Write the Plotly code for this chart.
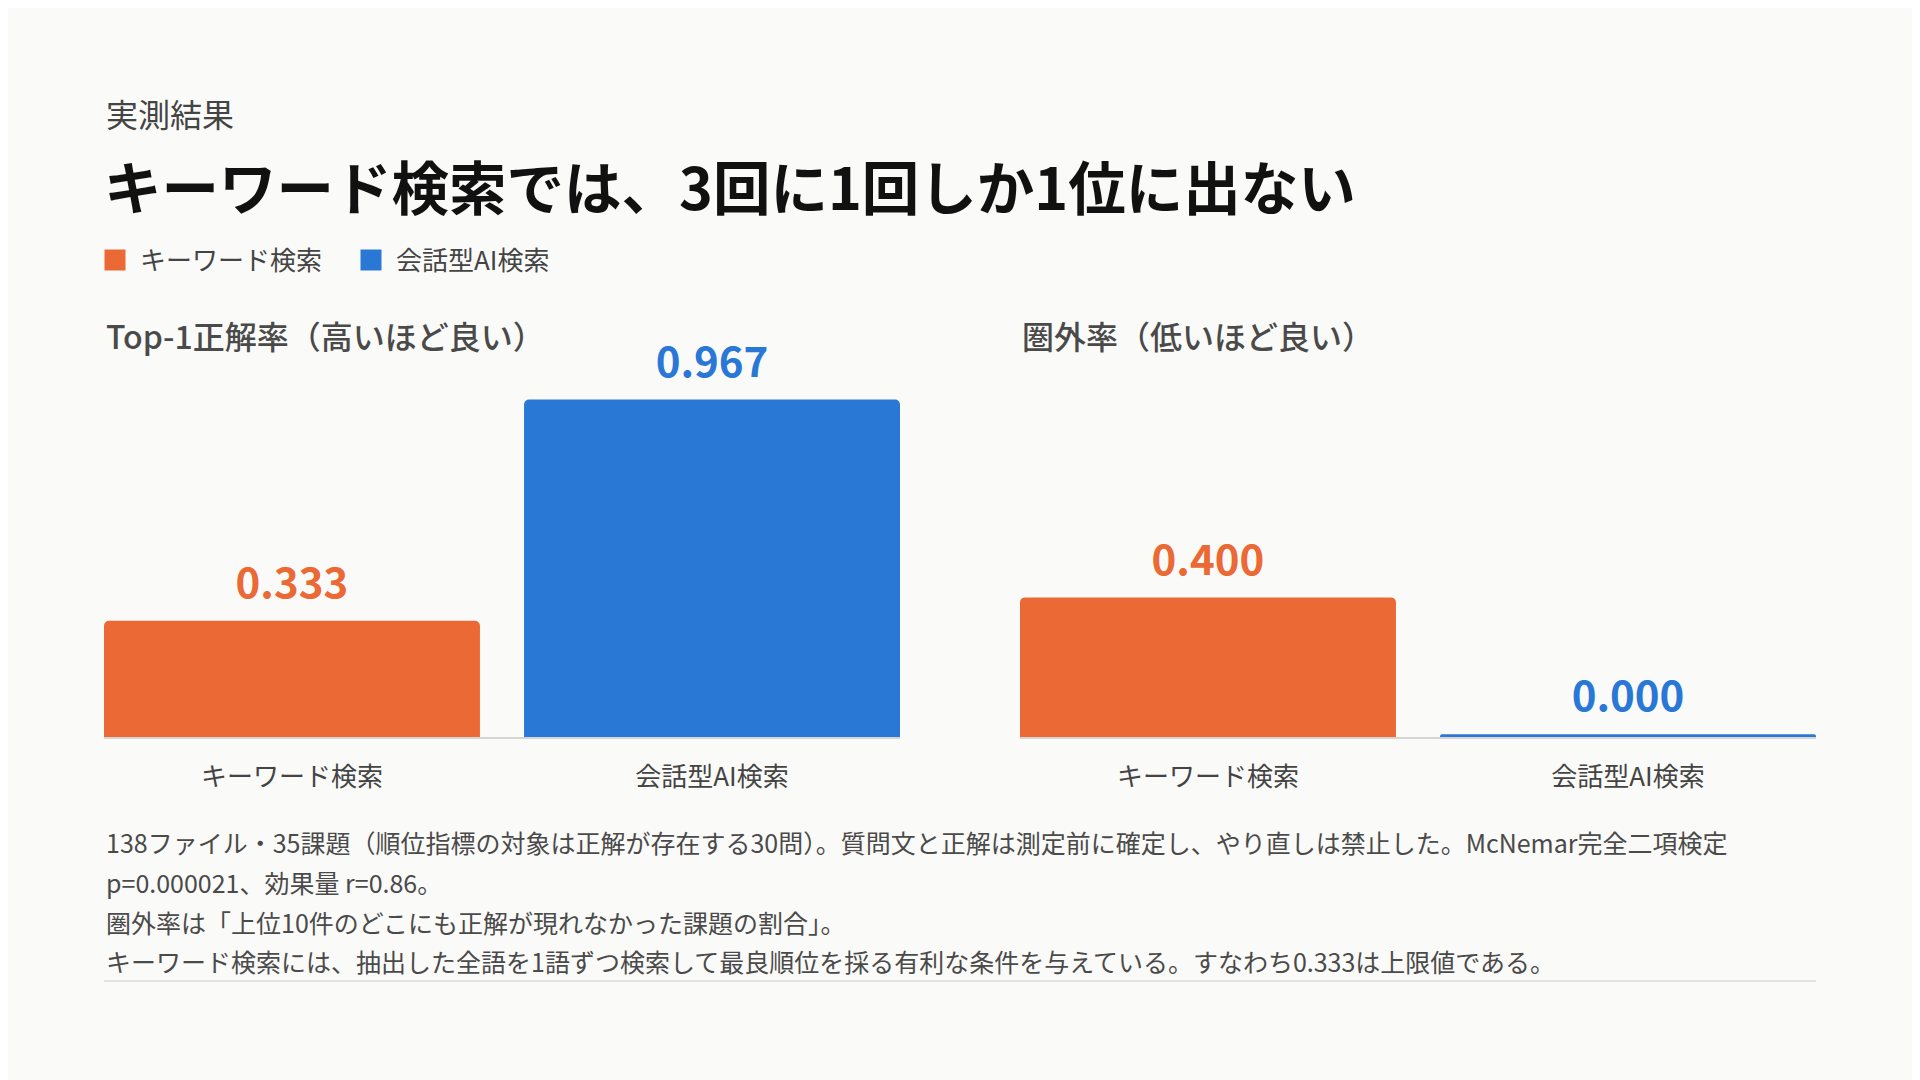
import plotly.graph_objects as go

# data
methods = ["キーワード検索", "会話型AI検索"]
top1_rate = [0.333, 0.967]
out_rate = [0.400, 0.000]
method_colors = ["#EA6935", "#2A78D6"]

kicker = "実測結果"
headline = "キーワード検索では、3回に1回しか1位に出ない"
panel_titles = ["Top-1正解率（高いほど良い）", "圏外率（低いほど良い）"]
notes = [
    "138ファイル・35課題（順位指標の対象は正解が存在する30問）。質問文と正解は測定前に確定し、やり直しは禁止した。McNemar完全二項検定",
    "p=0.000021、効果量 r=0.86。",
    "圏外率は「上位10件のどこにも正解が現れなかった課題の割合」。",
    "キーワード検索には、抽出した全語を1語ずつ検索して最良順位を採る有利な条件を与えている。すなわち0.333は上限値である。",
]

W, H = 1920, 1080
PAGE_PAD = 8  # default body margin of the written page
FONT = "Noto Sans CJK JP"
BG = "#FAFAF8"
MIN_BAR = 0.008  # keep zero bars visible as a thin line


def px(x):
    return (x - PAGE_PAD) / W


def py(y):
    return 1 - (y - PAGE_PAD) / H


fig = go.Figure()

panels = [top1_rate, out_rate]
for p, values in enumerate(panels):
    xa = "x" if p == 0 else "x2"
    ya = "y" if p == 0 else "y2"
    shown = [max(v, MIN_BAR) for v in values]
    for i, m in enumerate(methods):
        fig.add_trace(go.Bar(
            x=[m],
            y=[shown[i]],
            xaxis=xa,
            yaxis=ya,
            showlegend=False,
            width=0.895,
            marker=dict(color=method_colors[i], cornerradius=5, line=dict(width=0)),
            hoverinfo="skip",
        ))
    # value labels above the bars
    fig.add_trace(go.Scatter(
        x=methods,
        y=shown,
        xaxis=xa,
        yaxis=ya,
        mode="markers+text",
        marker=dict(size=18, opacity=0),
        text=[f"{v:.3f}" for v in values],
        textposition="top center",
        textfont=dict(family=FONT, size=42, color=method_colors, weight="bold"),
        cliponaxis=False,
        showlegend=False,
        hoverinfo="skip",
    ))

# legend entries
for i, m in enumerate(methods):
    fig.add_trace(go.Scatter(
        x=[None], y=[None], mode="markers", name=m,
        marker=dict(symbol="square", size=16, color=method_colors[i],
                    line=dict(width=5, color=method_colors[i])),
    ))

axis_common = dict(
    showgrid=False,
    zeroline=False,
    showline=True,
    linecolor="#D6D5D0",
    linewidth=2,
    ticks="",
    ticklabelstandoff=16,
    tickfont=dict(family=FONT, size=26, color="#444444"),
    range=[-0.4475, 1.4475],
    fixedrange=True,
)
yaxis_common = dict(
    visible=False,
    range=[0, 1.0],
    domain=[py(737), py(388)],
    fixedrange=True,
)

fig.update_layout(
    width=W,
    height=H,
    margin=dict(l=0, r=0, t=0, b=0),
    paper_bgcolor=BG,
    plot_bgcolor=BG,
    barmode="overlay",
    font=dict(family=FONT, color="#444444"),
    xaxis=dict(domain=[px(104), px(900)], anchor="y", **axis_common),
    xaxis2=dict(domain=[px(1020), px(1816)], anchor="y2", **axis_common),
    yaxis=dict(anchor="x", **yaxis_common),
    yaxis2=dict(anchor="x2", **yaxis_common),
    legend=dict(
        orientation="h",
        x=px(90),
        y=py(260),
        xanchor="left",
        yanchor="middle",
        itemwidth=40,
        entrywidth=201,
        font=dict(family=FONT, size=26, color="#444444"),
        bgcolor="rgba(0,0,0,0)",
        itemclick=False,
        itemdoubleclick=False,
        traceorder="normal",
    ),
    showlegend=True,
)

annotations = [
    dict(text=kicker, x=px(104), y=py(113), font=dict(size=32, color="#444444")),
    dict(text=headline, x=px(102), y=py(185),
         font=dict(size=57.5, color="#111111", weight="bold")),
    dict(text=panel_titles[0], x=px(104), y=py(335),
         font=dict(size=32, color="#4A4A4A", weight=500)),
    dict(text=panel_titles[1], x=px(1020), y=py(335),
         font=dict(size=32, color="#4A4A4A", weight=500)),
]
note_y = [842, 882, 922, 961]
for t, yy in zip(notes, note_y):
    annotations.append(dict(text=t, x=px(104), y=py(yy), font=dict(size=25, color="#4A4A4A")))

for a in annotations:
    a.update(xref="paper", yref="paper", xanchor="left", yanchor="middle", showarrow=False, align="left")
    a["font"]["family"] = FONT
fig.update_layout(annotations=annotations)

# divider under the notes
fig.add_shape(type="line", xref="paper", yref="paper",
              x0=px(104), x1=px(1816), y0=py(981), y1=py(981),
              line=dict(color="#E4E3DE", width=2))

fig.write_html("out.html")
